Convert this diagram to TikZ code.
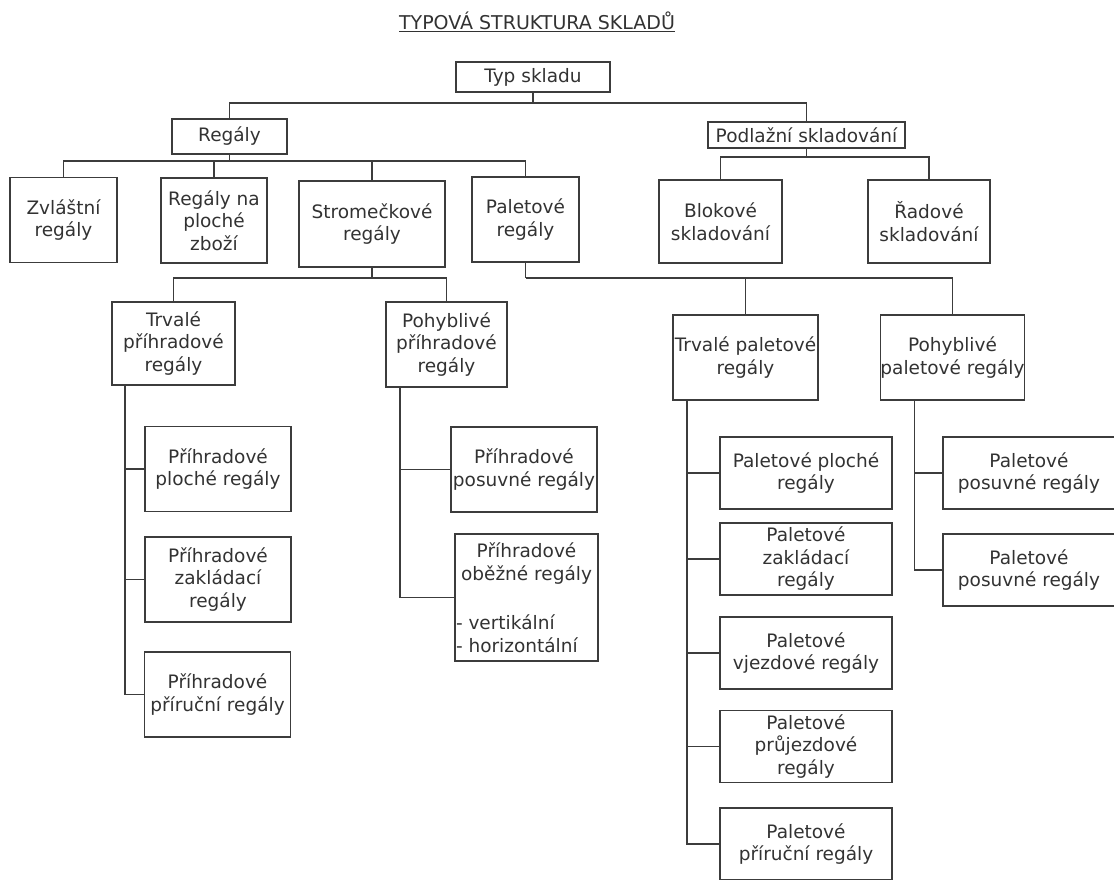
\documentclass[tikz,border=0pt]{standalone}
\usepackage{fontspec}
\usetikzlibrary{positioning}
\newfontfamily\boxfont{DejaVu Sans}
\definecolor{linegray}{RGB}{60,60,60}
\definecolor{textgray}{RGB}{50,50,50}
\tikzset{
x=1pt, y=1pt, % one unit is one pixel of the picture
node distance=86pt, % centre to centre distance for the below of placement
box/.style={draw=linegray, line width=1.6pt, text=textgray, align=center, inner sep=0pt, font=\boxfont\fontsize{18.5}{22.5}\selectfont}, % every box of the tree
cat/.style={box, minimum height=85pt},
sub/.style={box, minimum width=146pt, minimum height=85pt},
pal/.style={box, minimum width=172pt, minimum height=72pt},
conn/.style={draw=linegray, line width=1.6pt} % the connecting lines
}

\begin{document}
\begin{tikzpicture}
      \useasboundingbox (0,0) rectangle (1114,-879);
      \node[text=textgray, font=\boxfont\fontsize{19}{23}\selectfont] (title) at (537,-22) {\underline{TYPOVÁ STRUKTURA SKLADŮ}};

      \node[box, minimum width=154pt, minimum height=30pt] (typ) at (533,-77) {Typ skladu};
      \node[box, minimum width=115pt, minimum height=35pt, below of=typ, xshift=-303.5pt, yshift=26.5pt] (regaly) {Regály};
      \node[box, minimum width=197pt, minimum height=26pt, below of=typ, xshift=273.5pt, yshift=28pt] (podlaz) {Podlažní skladování};

      \node[cat, minimum width=107pt, below of=regaly, xshift=-166pt, yshift=2.5pt] (zvl) {Zvláštní\\regály};
      \node[cat, minimum width=106pt, below of=regaly, xshift=-15.5pt, yshift=2pt] (naploche) {Regály na\\ploché\\zboží};
      \node[cat, minimum width=146pt, minimum height=86pt, below of=regaly, xshift=142.5pt, yshift=-1.5pt] (strom) {Stromečkové\\regály};
      \node[cat, minimum width=107pt, below of=regaly, xshift=296pt, yshift=3pt] (palreg) {Paletové\\regály};
      \node[cat, minimum width=123pt, minimum height=83pt, below of=podlaz, xshift=-86pt, yshift=-0.5pt] (blok) {Blokové\\skladování};
      \node[cat, minimum width=122pt, minimum height=83pt, below of=podlaz, xshift=122.5pt, yshift=-0.5pt] (rad) {Řadové\\skladování};

      \node[cat, minimum width=123pt, minimum height=83pt, below of=strom, xshift=-198.5pt, yshift=-33.5pt] (trvprih) {Trvalé\\příhradové\\regály};
      \node[cat, minimum width=121pt, below of=strom, xshift=74.5pt, yshift=-34.5pt] (pohprih) {Pohyblivé\\příhradové\\regály};
      \node[cat, minimum width=145pt, below of=palreg, xshift=220pt, yshift=-52pt] (trvpal) {Trvalé paletové\\regály};
      \node[cat, minimum width=143pt, below of=palreg, xshift=427pt, yshift=-52pt] (pohpal) {Pohyblivé\\paletové regály};

      \node[sub, below of=trvprih, xshift=44.5pt, yshift=-39.5pt] (prihploche) {Příhradové\\ploché regály};
      \node[sub, below of=prihploche, yshift=-24.5pt] (prihzakl) {Příhradové\\zakládací\\regály};
      \node[sub, below of=prihzakl, xshift=-0.5pt, yshift=-29pt] (prihpriruc) {Příhradové\\příruční regály};
      \node[sub, below of=pohprih, xshift=77.5pt, yshift=-39pt] (prihposuv) {Příhradové\\posuvné regály};
      \node[sub, minimum width=143pt, minimum height=127pt, inner xsep=1pt, below of=prihposuv, xshift=2.5pt, yshift=-42pt] (prihobez) {Příhradové\\oběžné regály\\[27pt]\makebox[141pt][l]{- vertikální}\\\makebox[141pt][l]{- horizontální}};

      \node[pal, below of=trvpal, xshift=60.5pt, yshift=-29.5pt] (palploche) {Paletové ploché\\regály};
      \node[pal, below of=palploche] (palzakl) {Paletové\\zakládací\\regály};
      \node[pal, below of=palzakl, yshift=-8pt] (palvjezd) {Paletové\\vjezdové regály};
      \node[pal, below of=palvjezd, yshift=-7.5pt] (palpruj) {Paletové\\průjezdové\\regály};
      \node[pal, below of=palpruj, yshift=-11.5pt] (palpriruc) {Paletové\\příruční regály};
      \node[pal, below of=pohpal, xshift=76.5pt, yshift=-29.5pt] (palposuvA) {Paletové\\posuvné regály};
      \node[pal, below of=palposuvA, yshift=-11pt] (palposuvB) {Paletové\\posuvné regály};

      \coordinate (typbus) at ([yshift=-10pt]typ.south);
      \coordinate (regbus) at ([yshift=-6pt]regaly.south);
      \coordinate (podbus) at ([yshift=-8pt]podlaz.south);
      \coordinate (strbus) at ([yshift=-10pt]strom.south);
      \coordinate (palbus) at ([yshift=-15pt]palreg.south);
      \coordinate (trvprail) at ([xshift=14pt]trvprih.south west);
      \coordinate (pohprail) at ([xshift=15pt]pohprih.south west);
      \coordinate (trvpalrail) at ([xshift=15pt]trvpal.south west);
      \coordinate (pohpalrail) at ([xshift=35pt]pohpal.south west);

      \draw[conn] (typ.south) -- (typbus)
      (regaly.north) |- (typbus)
      (podlaz.north) |- (typbus);
      \draw[conn] (regaly.south) -- (regbus)
      (zvl.north) |- (regbus)
      (naploche.north) |- (regbus)
      (strom.north) |- (regbus)
      (palreg.north) |- (regbus);
      \draw[conn] (podlaz.south) -- (podbus)
      (blok.north) |- (podbus)
      (rad.north) |- (podbus);
      \draw[conn] (strom.south) -- (strbus)
      (trvprih.north) |- (strbus)
      (pohprih.north) |- (strbus);
      \draw[conn] (palreg.south) -- (palbus)
      (trvpal.north) |- (palbus)
      (pohpal.north) |- (palbus);
      \draw[conn] (trvprail) |- (prihploche.west)
      (trvprail) |- (prihzakl.west)
      (trvprail) |- (prihpriruc.west);
      \draw[conn] (pohprail) |- (prihposuv.west)
      (pohprail) |- (prihobez.west);
      \draw[conn] (trvpalrail) |- (palploche.west)
      (trvpalrail) |- (palzakl.west)
      (trvpalrail) |- (palvjezd.west)
      (trvpalrail) |- (palpruj.west)
      (trvpalrail) |- (palpriruc.west);
      \draw[conn] (pohpalrail) |- (palposuvA.west)
      (pohpalrail) |- (palposuvB.west);
    \end{tikzpicture}
\end{document}
